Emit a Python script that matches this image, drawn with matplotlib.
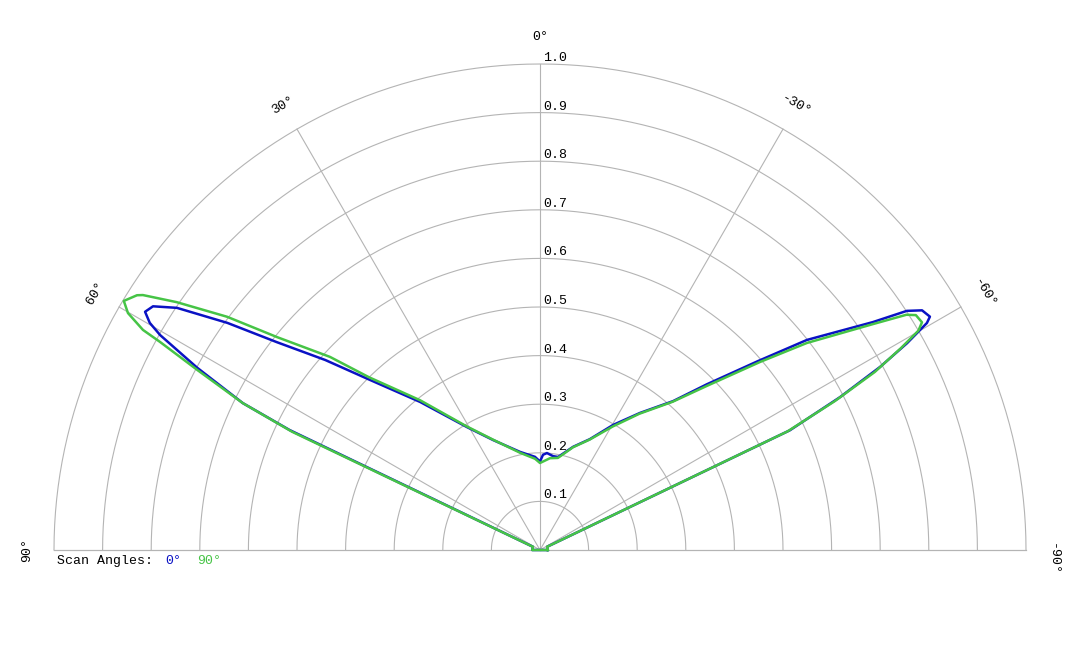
import matplotlib
matplotlib.use('Agg')
import matplotlib.pyplot as plt
import numpy as np

# pattern cuts, angle in degrees (0 = broadside, positive to the left)
theta_0 = [-90, -65.5, -64.4, -63.0, -61.7, -60.6, -59.6, -59.1, -57.9, -56.9,
           -55.6, -51.8, -49.1, -45.2, -41.8, -36.1, -30.3, -24.2, -17.8, -11.0,
           -7.9, -4.1, -1.8, 0, 3.1, 11.5, 23.1, 30.7, 39.0, 45.0,
           48.5, 51.7, 54.0, 56.3, 57.8, 58.9, 59.8, 60.5, 62.0, 63.7,
           64.4, 65.5, 90]
r_0 = [0.016, 0.016, 0.570, 0.693, 0.795, 0.867, 0.923, 0.935, 0.928, 0.901,
       0.830, 0.699, 0.594, 0.484, 0.411, 0.349, 0.298, 0.250, 0.223, 0.195,
       0.195, 0.200, 0.196, 0.182, 0.192, 0.206, 0.246, 0.294, 0.392, 0.495,
       0.590, 0.690, 0.795, 0.898, 0.941, 0.949, 0.929, 0.898, 0.799, 0.682,
       0.571, 0.016, 0.016]

theta_90 = [-90, -65.5, -64.4, -63.2, -62.0, -60.8, -59.9, -59.2, -58.0, -57.3,
            -55.8, -52.2, -49.5, -45.5, -41.8, -36.1, -30.5, -24.2, -17.8, -11.0,
            -6.2, 0, 3.1, 11.5, 23.1, 30.7, 38.7, 44.7, 47.4, 51.0,
            53.3, 55.7, 57.3, 57.7, 59.1, 60.1, 61.0, 61.3, 62.3, 63.7,
            64.5, 65.5, 90]
r_90 = [0.016, 0.016, 0.565, 0.680, 0.780, 0.850, 0.900, 0.915, 0.912, 0.896,
        0.826, 0.695, 0.596, 0.482, 0.409, 0.347, 0.295, 0.249, 0.222, 0.193,
        0.190, 0.179, 0.188, 0.204, 0.247, 0.296, 0.395, 0.500, 0.587, 0.696,
        0.803, 0.905, 0.971, 0.981, 0.998, 0.978, 0.934, 0.891, 0.795, 0.682,
        0.565, 0.016, 0.016]

ring_values = [0.1, 0.2, 0.3, 0.4, 0.5, 0.6, 0.7, 0.8, 0.9, 1.0]
angle_ticks = [-90, -60, -30, 0, 30, 60, 90]

BLUE = '#0a12c4'
GREEN = '#46c446'
GRID = '#b4b4b4'
FONT = ['Liberation Mono', 'DejaVu Sans Mono']

fig = plt.figure(figsize=(10.8, 6.48), dpi=100)
# square box; the half disc sits in its middle half (centre at y=550 px, R=486 px)
ax = fig.add_axes([54 / 1080, -145 / 648, 972 / 1080, 972 / 648], projection='polar')
ax.set_theta_zero_location('N')
ax.set_theta_direction(1)
ax.set_thetamin(-90)
ax.set_thetamax(90)
ax.set_rlim(0, 1.0)

ax.set_xticks([])
ax.set_yticks([])
ax.grid(False)
ax.patch.set_edgecolor('none')
# start/end spines get switched back on at draw time, so just make them grey
for s in ax.spines.values():
    s.set_color(GRID)
    s.set_linewidth(0.8)
ax.spines['inner'].set_visible(False)
ax.spines['polar'].set_visible(False)

# grid drawn by hand
arc = np.linspace(-np.pi / 2, np.pi / 2, 361)
for v in ring_values:
    ax.plot(arc, np.full_like(arc, v), color=GRID, lw=0.8, zorder=1, clip_on=False)
for a in angle_ticks:
    ax.plot([np.deg2rad(a)] * 2, [0, 1.0], color=GRID, lw=0.8, zorder=1, clip_on=False)

# closed loops: last point joins back to first across the origin
t0 = np.deg2rad(theta_0 + theta_0[:1])
t90 = np.deg2rad(theta_90 + theta_90[:1])
ax.plot(t0, r_0 + r_0[:1], color=BLUE, lw=1.8, clip_on=False, zorder=3)
ax.plot(t90, r_90 + r_90[:1], color=GREEN, lw=1.8, clip_on=False, zorder=4)

# ring labels, just right of the 0 deg spoke
for v in ring_values:
    ax.annotate(f'{v:.1f}', xy=(0, v), xytext=(2.5, 4.3), textcoords='offset points',
                ha='left', va='center', fontsize=9.5, family=FONT)

# angle labels around the rim
label_pos = {-90: -91.0}
for a in angle_ticks:
    ax.text(np.deg2rad(label_pos.get(a, a)), 1.056, f'{a}°', ha='center', va='center',
            rotation=a, rotation_mode='anchor', fontsize=9.5, family=FONT)

# legend line
fig.text(57 / 1080, 1 - 561 / 648, 'Scan Angles:', ha='left', va='center',
         fontsize=9.5, family=FONT)
fig.text(165 / 1080, 1 - 561 / 648, '0°', color=BLUE, ha='left', va='center',
         fontsize=9.5, family=FONT)
fig.text(197 / 1080, 1 - 561 / 648, '90°', color=GREEN, ha='left', va='center',
         fontsize=9.5, family=FONT)

fig.savefig('out.png', dpi=100, facecolor='white')
